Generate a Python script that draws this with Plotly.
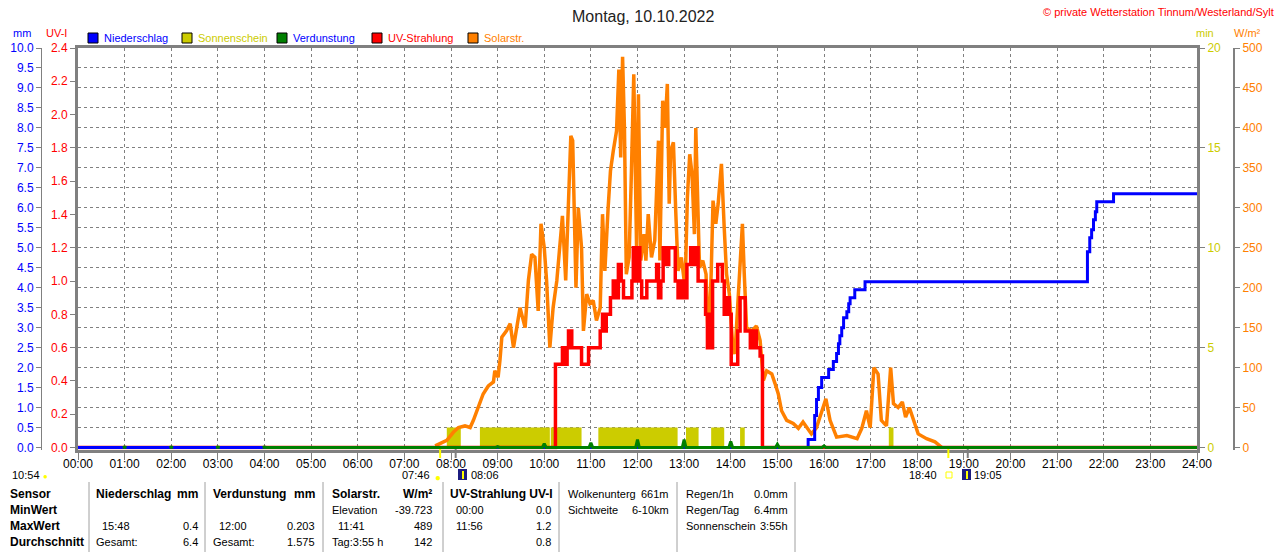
import plotly.graph_objects as go

W, H = 1280, 552
FONT = "Liberation Sans, Arial, sans-serif"

# ---------------- data (x in hours) ----------------
solar_h = [7.66, 7.80, 7.91, 8.05, 8.16, 8.30, 8.41, 8.48, 8.59, 8.69, 8.80, 8.91, 8.94, 9.01,
           9.05, 9.09, 9.19, 9.27, 9.34, 9.41, 9.48, 9.59, 9.66, 9.73, 9.80, 9.87, 9.93, 10.00,
           10.05, 10.12, 10.19, 10.27, 10.34, 10.39, 10.46, 10.52, 10.57, 10.61, 10.64, 10.68,
           10.73, 10.80, 10.84, 10.91, 10.98, 11.05, 11.12, 11.20, 11.25, 11.30, 11.37, 11.42,
           11.48, 11.55, 11.60, 11.64, 11.68, 11.72, 11.76, 11.82, 11.87, 11.92, 11.98, 12.02,
           12.07, 12.14, 12.18, 12.23, 12.30, 12.37, 12.45, 12.48, 12.54, 12.59, 12.64, 12.68,
           12.71, 12.77, 12.82, 12.87, 12.94, 13.02, 13.07, 13.12, 13.17, 13.22, 13.25, 13.28,
           13.33, 13.40, 13.47, 13.52, 13.58, 13.62, 13.68, 13.73, 13.80, 13.86, 13.91, 13.97,
           14.04, 14.09, 14.14, 14.20, 14.25, 14.29, 14.34, 14.45, 14.55, 14.63, 14.70, 14.77,
           14.88, 14.95, 15.02, 15.09, 15.20, 15.34, 15.45, 15.55, 15.73, 15.84, 15.95, 16.04,
           16.13, 16.27, 16.49, 16.71, 16.81, 16.91, 16.99, 17.07, 17.16, 17.23, 17.34, 17.43,
           17.49, 17.59, 17.68, 17.75, 17.83, 17.92, 18.02, 18.20, 18.38, 18.53]
solar_w = [2, 6, 9, 19, 25, 27, 25, 34, 50, 67, 77, 82, 96, 88,
           109, 138, 146, 155, 125, 152, 175, 150, 209, 242, 238, 171, 280, 250,
           209, 125, 175, 209, 250, 290, 209, 300, 390, 384, 300, 200,
           300, 250, 146, 192, 180, 184, 159, 175, 292, 221, 300, 346,
           371, 396, 473, 363, 489, 400, 217, 238, 346, 467, 250, 442,
           234, 267, 234, 292, 238, 259, 384, 234, 434, 400, 455, 305,
           371, 382, 296, 221, 238, 200, 313, 367, 342, 267, 400, 317,
           225, 234, 217, 125, 217, 309, 280, 305, 355, 275, 217, 192,
           130, 117, 167, 238, 280, 217, 150, 146, 152, 134, 84, 96,
           92, 80, 67, 46, 34, 30, 24, 32, 17, 25, 46, 61,
           34, 13, 15, 11, 24, 46, 25, 100, 92, 34, 27, 100,
           55, 50, 57, 38, 50, 34, 17, 11, 7, 0]

uv_h = [0.00, 10.24, 10.39, 10.46, 10.49, 10.52, 10.59, 10.80, 10.95, 11.20, 11.25, 11.30,
        11.33, 11.42, 11.48, 11.53, 11.59, 11.65, 11.70, 11.83, 11.88, 11.91, 11.97, 12.01,
        12.05, 12.09, 12.20, 12.41, 12.45, 12.50, 12.55, 12.62, 12.67, 12.81, 12.87, 12.94,
        13.01, 13.06, 13.14, 13.20, 13.25, 13.30, 13.46, 13.50, 13.55, 13.58, 13.61, 13.72,
        13.82, 13.86, 13.92, 13.97, 14.01, 14.15, 14.20, 14.31, 14.42, 14.48, 14.55, 14.63,
        14.68, 24.00]
uv_i = [0.0, 0.5, 0.6, 0.5, 0.6, 0.7, 0.6, 0.5, 0.6, 0.7, 0.8, 0.7,
        0.8, 0.9, 1.0, 0.9, 1.1, 1.0, 0.9, 0.9, 1.0, 1.2, 1.0, 1.2,
        1.0, 0.9, 1.0, 1.1, 0.9, 1.0, 1.2, 1.1, 1.2, 1.0, 0.9, 1.0,
        0.9, 1.1, 1.2, 1.1, 1.2, 1.0, 0.8, 0.6, 0.8, 0.6, 1.0, 1.1,
        1.0, 0.8, 0.9, 0.8, 0.5, 0.7, 0.9, 0.7, 0.6, 0.7, 0.6, 0.55,
        0.0, 0.0]

rain_h = [0.00, 15.66, 15.80, 15.84, 15.88, 15.95, 16.10, 16.20, 16.27, 16.31, 16.34, 16.38,
          16.42, 16.49, 16.53, 16.56, 16.66, 16.88, 21.65, 21.70, 21.74, 21.78, 21.82, 21.85,
          22.21, 24.00]
rain_mm = [0.0, 0.2, 0.8, 1.2, 1.5, 1.75, 1.95, 2.15, 2.35, 2.6, 2.8, 3.0,
           3.25, 3.4, 3.6, 3.75, 3.95, 4.15, 4.9, 5.25, 5.45, 5.7, 5.9, 6.15,
           6.35, 6.35]

sun_start = [7.91, 8.62, 10.14, 11.16, 13.04, 13.58, 14.20, 17.39]
sun_end = [8.21, 10.12, 10.80, 12.86, 13.31, 13.86, 14.30, 17.49]
sun_min = [1, 1, 1, 1, 1, 1, 1, 1]

evap_hours = list(range(1, 24))
evap_mm = [0.01, 0.01, 0.01, 0.01, 0.01, 0.01, 0.01, 0.01, 0.02, 0.10, 0.12, 0.20,
           0.20, 0.15, 0.08, 0.04, 0.01, 0.01, 0.01, 0.01, 0.01, 0.01, 0.01]
evap_from = 4

hour_labels = [f"{h:02d}:00" for h in range(25)]


def hm(s):
    h, m = s.split(":")
    return int(h) + int(m) / 60


sunrise, sunset = "07:46", "18:40"
moonrise, moonset = "08:06", "19:05"
day_length = "10:54"


def px(x):
    return x / W


def py(y):
    return 1 - y / H


# evaporation drawn as little hourly spikes, joined by a base line from 04:00
ex, ey = [], []
for h, v in zip(evap_hours, evap_mm):
    ex += [h - 0.04, h, h + 0.04]
    ey += [0, v, 0]
    if h < evap_from:
        ex.append(None)
        ey.append(None)
ex.append(24)
ey.append(0)

fig = go.Figure()

fig.add_trace(go.Bar(
    x=[(a + b) / 2 for a, b in zip(sun_start, sun_end)],
    y=sun_min, width=[b - a for a, b in zip(sun_start, sun_end)],
    marker=dict(color="#cccc00", line=dict(width=0)), yaxis="y", name="Sonnenschein"))
fig.add_trace(go.Scatter(x=solar_h, y=solar_w, mode="lines", yaxis="y2",
                         line=dict(color="#ff8000", width=3.5), name="Solarstr."))
fig.add_trace(go.Scatter(x=uv_h, y=uv_i, mode="lines", yaxis="y3", line_shape="hv",
                         line=dict(color="#ff0000", width=3.5), name="UV-Strahlung"))
fig.add_trace(go.Scatter(x=rain_h, y=rain_mm, mode="lines", yaxis="y4", line_shape="hv",
                         line=dict(color="#0000ff", width=3), name="Niederschlag"))
fig.add_trace(go.Scatter(x=ex, y=ey, mode="lines", yaxis="y4",
                         line=dict(color="#008000", width=3), name="Verdunstung"))

dom_y = [py(449.5), py(48)]
grid = dict(gridcolor="#808080", gridwidth=1, griddash="3px,3px")
tickst = dict(ticks="outside", ticklen=5, tickcolor="#808080", zeroline=False, automargin=False)

fig.update_layout(
    width=W, height=H, margin=dict(l=0, r=0, t=0, b=0, autoexpand=False),
    paper_bgcolor="white", plot_bgcolor="white", showlegend=False,
    font=dict(family=FONT, size=12, color="black"), hovermode=False,
    xaxis=dict(domain=[px(78), px(1197)], range=[0, 24], tickmode="array",
               tickvals=list(range(25)), ticktext=hour_labels, showgrid=True, **grid,
               showline=True, mirror=True, linewidth=3, linecolor="#808080",
               tickfont=dict(size=12, color="black"), ticks="outside", ticklen=7,
               tickcolor="#808080", zeroline=False, automargin=False, ticklabelstandoff=-6),
    yaxis=dict(domain=dom_y, range=[-0.1, 20], tick0=0, dtick=5, side="right", anchor="x",
               showgrid=True, **grid,
               minor=dict(dtick=1, tick0=0, showgrid=True, gridcolor="#808080",
                          griddash="3px,3px", ticks=""),
               showline=True, linewidth=3, linecolor="#808080",
               tickfont=dict(color="#cccc00", size=12), **tickst),
    yaxis2=dict(domain=dom_y, range=[-2.5, 500], tick0=0, dtick=50, side="right",
                overlaying="y", anchor="free", position=px(1234), showgrid=False,
                showline=True, linewidth=2, linecolor="#808080",
                tickfont=dict(color="#ff8000", size=12), **tickst),
    yaxis3=dict(domain=dom_y, range=[-0.012, 2.4], tick0=0, dtick=0.2, tickformat=".1f",
                side="left", overlaying="y", anchor="x", showgrid=False,
                showline=True, linewidth=3, linecolor="#808080",
                tickfont=dict(color="#ff0000", size=12), **tickst),
    yaxis4=dict(domain=dom_y, range=[-0.05, 10], tick0=0, dtick=0.5, tickformat=".1f",
                side="left", overlaying="y", anchor="free", position=px(41), showgrid=False,
                showline=True, linewidth=1, linecolor="#808080",
                tickfont=dict(color="#0000ff", size=12), **tickst),
)

ann = []
shapes = []


def txt(x, y, s, color="black", size=11, bold=False, anchor="left"):
    ann.append(dict(x=px(x), y=py(y), xref="paper", yref="paper", text=f"<b>{s}</b>" if bold else s,
                    showarrow=False, xanchor=anchor, yanchor="middle",
                    font=dict(family=FONT, size=size, color=color)))


def rect(x0, y0, x1, y1, fill=None, line="black", lw=1):
    shapes.append(dict(type="rect", xref="paper", yref="paper", x0=px(x0), x1=px(x1),
                       y0=py(y1), y1=py(y0), fillcolor=fill, line=dict(color=line, width=lw)))


txt(643, 16, "Montag, 10.10.2022", "#222222", 16, anchor="center")
txt(1276, 12, "© private Wetterstation Tinnum/Westerland/Sylt", "#ff0000", 11, anchor="right")
txt(22, 33, "mm", "#0000ff", 11, anchor="center")
txt(56, 33, "UV-I", "#ff0000", 11, anchor="center")
txt(1205, 33, "min", "#cccc00", 11, anchor="center")
txt(1247, 33, "W/m²", "#ff8000", 11, anchor="center")

legend = [("Niederschlag", "#0000ff", "#0000ff", 88), ("Sonnenschein", "#cccc00", "#cccc00", 182),
          ("Verdunstung", "#008000", "#0000ff", 277), ("UV-Strahlung", "#ff0000", "#ff0000", 372),
          ("Solarstr.", "#ff8000", "#ff8000", 468)]
for name, box, col, x0 in legend:
    rect(x0, 33, x0 + 10, 43, fill=box)
    txt(x0 + 14, 38, name, col, 11)

# sun / moon markers under the time axis
for t, col in [(sunrise, "#ffff00"), (sunset, "#ffff00"), (moonrise, "#808080"), (moonset, "#808080")]:
    shapes.append(dict(type="line", xref="x", yref="paper", x0=hm(t), x1=hm(t),
                       y0=py(449), y1=py(458), line=dict(color=col, width=2)))

txt(10, 475, day_length)
txt(45, 476, "●", "#ffff00", 8, anchor="center")
txt(432, 475, sunrise, anchor="right")
txt(438, 477, "●", "#ffff00", 10, anchor="center")
txt(469, 475, moonrise)
txt(939, 475, sunset, anchor="right")
rect(946, 472, 952, 478, line="#ffff00")
txt(972, 475, moonset)
for x0 in (458, 962):
    rect(x0, 469, x0 + 9, 480, fill="#1c1c80", lw=0)
    shapes.append(dict(type="line", xref="paper", yref="paper", x0=px(x0 + 5), x1=px(x0 + 5),
                       y0=py(479), y1=py(471), line=dict(color="#ffff00", width=2)))

# summary table
rows = [494, 510, 526, 542]
for x0 in (89, 205, 323, 443, 559, 677, 795):
    shapes.append(dict(type="line", xref="paper", yref="paper", x0=px(x0), x1=px(x0),
                       y0=py(482), y1=py(552), line=dict(color="#a0a0a0", width=1)))

for y, s in zip(rows, ["Sensor", "MinWert", "MaxWert", "Durchschnitt"]):
    txt(8, y, s, size=12, bold=True)

txt(94, rows[0], "Niederschlag", size=12, bold=True)
txt(200, rows[0], "mm", size=12, bold=True, anchor="right")
txt(100, rows[2], "15:48")
txt(200, rows[2], "0.4", anchor="right")
txt(94, rows[3], "Gesamt:")
txt(200, rows[3], "6.4", anchor="right")

txt(211, rows[0], "Verdunstung", size=12, bold=True)
txt(317, rows[0], "mm", size=12, bold=True, anchor="right")
txt(217, rows[2], "12:00")
txt(317, rows[2], "0.203", anchor="right")
txt(211, rows[3], "Gesamt:")
txt(317, rows[3], "1.575", anchor="right")

txt(330, rows[0], "Solarstr.", size=12, bold=True)
txt(434, rows[0], "W/m²", size=12, bold=True, anchor="right")
txt(330, rows[1], "Elevation")
txt(434, rows[1], "-39.723", anchor="right")
txt(336, rows[2], "11:41")
txt(434, rows[2], "489", anchor="right")
txt(330, rows[3], "Tag:3:55 h")
txt(434, rows[3], "142", anchor="right")

txt(448, rows[0], "UV-Strahlung UV-I", size=12, bold=True)
txt(454, rows[1], "00:00")
txt(553, rows[1], "0.0", anchor="right")
txt(454, rows[2], "11:56")
txt(553, rows[2], "1.2", anchor="right")
txt(553, rows[3], "0.8", anchor="right")

txt(566, rows[0], "Wolkenunterg")
txt(671, rows[0], "661m", anchor="right")
txt(566, rows[1], "Sichtweite")
txt(671, rows[1], "6-10km", anchor="right")

txt(684, rows[0], "Regen/1h")
txt(790, rows[0], "0.0mm", anchor="right")
txt(684, rows[1], "Regen/Tag")
txt(790, rows[1], "6.4mm", anchor="right")
txt(684, rows[2], "Sonnenschein")
txt(790, rows[2], "3:55h", anchor="right")

fig.update_layout(annotations=ann, shapes=shapes)
# the page body has a default 8px margin; drop it so the figure sits at the window corner
fig.write_html("out.html", config={"displayModeBar": False},
               post_script="document.body.style.margin='0';")
